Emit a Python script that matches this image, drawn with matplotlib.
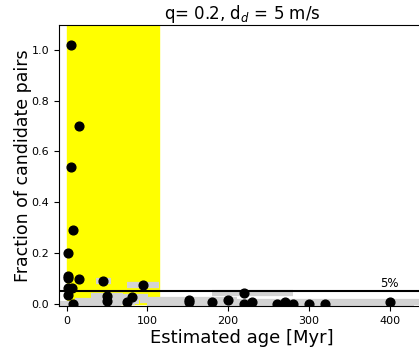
import matplotlib.pyplot as plt

# estimated ages [Myr] and fraction of candidate pairs
age = [5.5, 15, 5, 8.5, 2, 2, 2, 15.5, 2, 7, 2, 7.5,
       45.5, 50, 50, 75, 80.5, 95, 151, 151, 180, 200,
       220, 220, 229.5, 260, 270, 280, 300, 320, 400]
frac = [1.02, 0.70, 0.54, 0.29, 0.20, 0.11, 0.10, 0.095, 0.063, 0.06, 0.035, 0.0,
        0.09, 0.03, 0.01, 0.005, 0.025, 0.074, 0.013, 0.008, 0.006, 0.013,
        0.04, 0.0, 0.005, 0.0, 0.005, 0.0, 0.0, 0.0, 0.005]
# age uncertainties (lower, upper)
err_lo = [0, 0, 0, 0, 0, 0, 0, 0, 0, 0, 0, 60,
          9, 20, 40, 60, 20, 20, 60, 0, 0, 0,
          40, 120, 0, 0, 0, 150, 0, 0, 250]
err_hi = [0, 0, 0, 0, 0, 0, 0, 0, 0, 0, 0, 60,
          9, 20, 40, 10, 20, 20, 60, 0, 0, 0,
          60, 120, 0, 0, 0, 150, 0, 0, 100]

young_limit = 115
threshold = 0.05

fig = plt.figure(figsize=(4.19, 3.51), dpi=100)
ax = fig.add_axes([0.141, 0.128, 0.874, 0.802])

ax.fill_between([0, young_limit], 0, 1.1, color='yellow', zorder=0)
ax.errorbar(age, frac, xerr=[err_lo, err_hi], fmt='none', ecolor='lightgray',
            elinewidth=4.5, zorder=2)
ax.plot(age, frac, 'o', color='black', ms=6.3, zorder=3)
ax.axhline(threshold, color='black', lw=1.5, zorder=2.5)
ax.text(400, threshold + 0.004, '5%', fontsize=8.5, ha='center', va='bottom')

ax.set_xlim(-9.3, 444)
ax.set_ylim(-0.01, 1.1)
ax.set_xticks([0, 100, 200, 300, 400])
ax.set_yticks([0.0, 0.2, 0.4, 0.6, 0.8, 1.0])
ax.tick_params(labelsize=8)
ax.set_xlabel('Estimated age [Myr]', fontsize=13, labelpad=2)
ax.set_ylabel('Fraction of candidate pairs', fontsize=12.5, labelpad=0)
ax.set_title('q= 0.2, d$_d$ = 5 m/s', fontsize=12, pad=4)

fig.savefig('out.png', dpi=100)
